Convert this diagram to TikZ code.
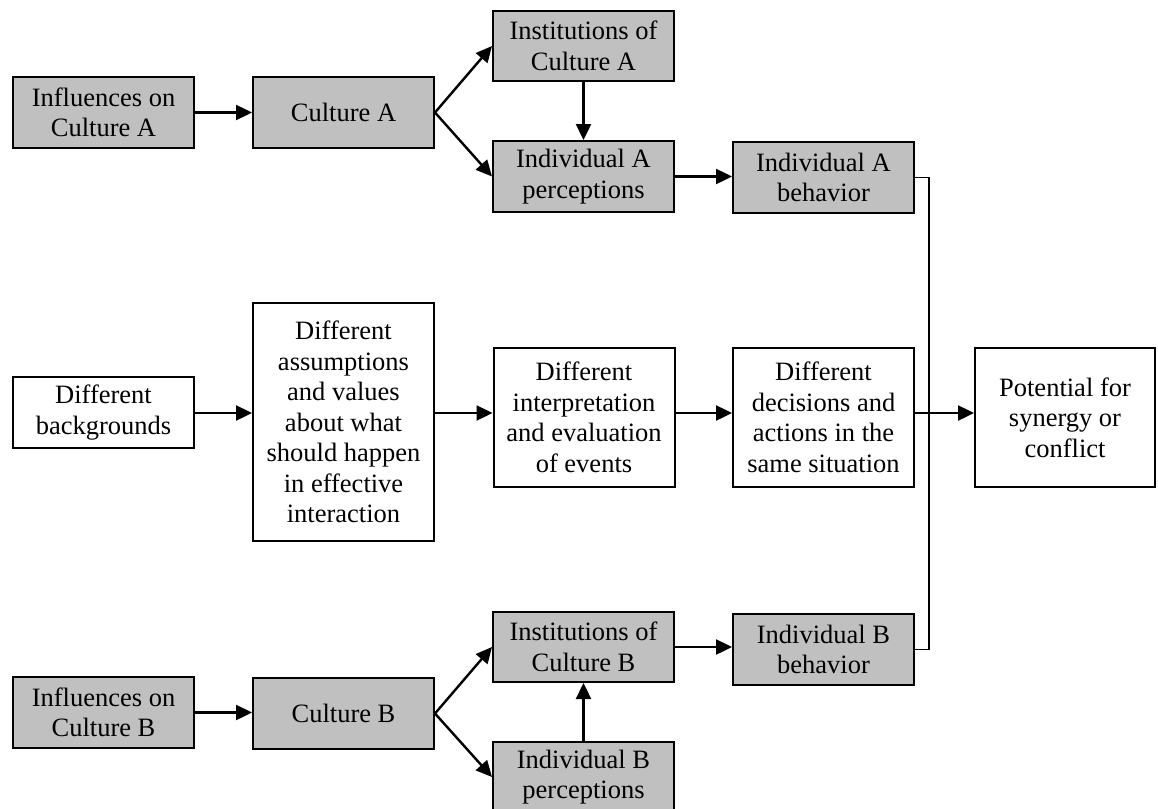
\documentclass[tikz,border=0pt]{standalone}
\usepackage{fontspec}
\setmainfont{Liberation Serif}
\usetikzlibrary{arrows.meta}
\definecolor{boxgray}{RGB}{192,192,192}
\tikzset{
  basebox/.style={draw=black, line width=2pt, rectangle, inner sep=0pt, align=center,
    minimum width=181pt, minimum height=71pt,
    font=\fontsize{26.5pt}{30.5pt}\selectfont},
  graybox/.style={basebox, fill=boxgray},
  whitebox/.style={basebox, fill=white},
  arr/.style={line width=2.4pt, -{Triangle[length=16pt,width=15pt]}},
  thinline/.style={line width=1.5pt}
}
\begin{document}
\begin{tikzpicture}[x=1pt,y=-1pt]
\clip (0,0) rectangle (1158,808);
\fill[white] (0,0) rectangle (1158,808);
% top row (Culture A)
\node[graybox] (infA) at (103.5,112.5) {Influences on\\Culture A};
\node[graybox] (culA) at (343.5,112.5) {Culture A};
\node[graybox, minimum height=70pt] (instA) at (583.5,46) {Institutions of\\Culture A};
\node[graybox] (percA) at (583.5,176.5) {Individual A\\perceptions};
\node[graybox] (behA) at (823.5,177.5) {Individual A\\behavior};
% middle row
\node[whitebox] (backg) at (103.5,412.5) {Different\\backgrounds};
\node[whitebox, minimum height=238pt] (assum) at (343.5,422) {Different\\assumptions\\and values\\about what\\should happen\\in effective\\interaction};
\node[whitebox, minimum height=139pt] (interp) at (584,417.5) {Different\\interpretation\\and evaluation\\of events};
\node[whitebox, minimum height=139pt] (decis) at (823.5,417.5) {Different\\decisions and\\actions in the\\same situation};
\node[whitebox, minimum height=139pt, minimum width=180pt] (potent) at (1065,417.5) {Potential for\\synergy or\\conflict};
% bottom row (Culture B)
\node[graybox, minimum height=70pt] (instB) at (583.5,647) {Institutions of\\Culture B};
\node[graybox] (behB) at (823.5,649.5) {Individual B\\behavior};
\node[graybox] (infB) at (103.5,712.5) {Influences on\\Culture B};
\node[graybox] (culB) at (343.5,713.5) {Culture B};
\node[graybox, minimum height=70pt] (percB) at (583.5,777) {Individual B\\perceptions};
% helper coordinates
\coordinate (midrow) at (0,413);
\coordinate (busx) at (929,413);
% arrows A
\draw[arr] (infA.east) -- (culA.west);
\draw[arr] (culA.east) -- (instA.west);
\draw[arr] (culA.east) -- (percA.west);
\draw[arr] (instA.south) -- (percA.north);
\draw[arr] (percA.east) -- (percA.east -| behA.west);
% arrows middle
\draw[arr] (backg.east |- midrow) -- (assum.west |- midrow);
\draw[arr] (assum.east |- midrow) -- (interp.west |- midrow);
\draw[arr] (interp.east |- midrow) -- (decis.west |- midrow);
\draw[arr] (decis.east |- midrow) -- (potent.west |- midrow);
% arrows B
\draw[arr] (infB.east) -- (infB.east -| culB.west);
\draw[arr] (culB.east) -- (instB.west);
\draw[arr] (culB.east) -- (percB.west);
\draw[arr] (percB.north) -- (instB.south);
\draw[arr] (instB.east) -- (instB.east -| behB.west);
% feedback bus
\draw[thinline] (behA.east) -- (behA.east -| busx) -- (behB.east -| busx) -- (behB.east);
\end{tikzpicture}
\end{document}
